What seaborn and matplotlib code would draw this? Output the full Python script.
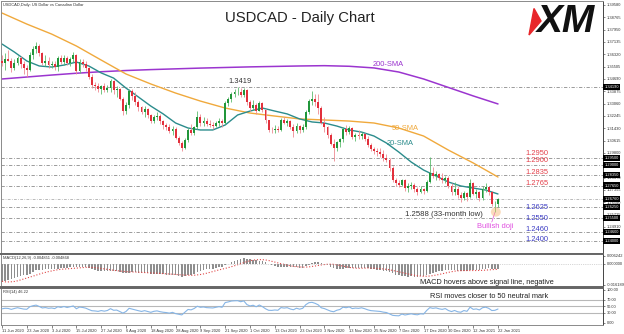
import numpy as np
import pandas as pd
import matplotlib
matplotlib.use("Agg")
import matplotlib.pyplot as plt
import seaborn as sns
from matplotlib.patches import Polygon, Ellipse

sns.set_theme(style="white")
plt.rcParams['font.family'] = ['Liberation Sans', 'DejaVu Sans']

# ---------------- data ----------------
opens = [1.3590,1.3575,1.3600,1.3590,1.3540,1.3575,1.3605,1.3570,1.3540,1.3530,
         1.3625,1.3665,1.3690,1.3640,1.3575,1.3590,1.3560,1.3570,1.3545,1.3605,
         1.3580,1.3610,1.3575,1.3600,1.3625,1.3525,1.3580,1.3565,1.3540,1.3485,
         1.3430,1.3420,1.3400,1.3420,1.3395,1.3410,1.3455,1.3395,1.3400,1.3340,
         1.3260,1.3300,1.3390,1.3355,1.3320,1.3285,1.3250,1.3270,1.3230,1.3190,
         1.3215,1.3225,1.3190,1.3165,1.3150,1.3125,1.3140,1.3080,1.3045,1.3010,
         1.3065,1.3130,1.3115,1.3150,1.3215,1.3180,1.3190,1.3170,1.3165,1.3160,
         1.3175,1.3190,1.3175,1.3310,1.3335,1.3370,1.3380,1.3385,1.3365,1.3395,
         1.3315,1.3280,1.3300,1.3260,1.3310,1.3265,1.3195,1.3135,1.3130,1.3140,
         1.3130,1.3195,1.3180,1.3190,1.3150,1.3125,1.3160,1.3130,1.3150,1.3250,
         1.3325,1.3340,1.3315,1.3275,1.3180,1.3150,1.3100,1.3040,1.3010,1.3050,
         1.3070,1.3140,1.3120,1.3145,1.3085,1.3100,1.3090,1.3105,1.3075,1.3035,
         1.3005,1.2995,1.2985,1.2975,1.2950,1.2935,1.2880,1.2800,1.2780,1.2770,
         1.2800,1.2750,1.2760,1.2770,1.2740,1.2725,1.2740,1.2730,1.2790,1.2850,
         1.2830,1.2840,1.2815,1.2800,1.2815,1.2760,1.2725,1.2745,1.2700,1.2685,
         1.2715,1.2690,1.2780,1.2710,1.2720,1.2685,1.2740,1.2755,1.2720,1.2640,
         1.2645]
highs = [1.3630,1.3640,1.3660,1.3605,1.3600,1.3620,1.3620,1.3585,1.3560,1.3645,
         1.3690,1.3715,1.3700,1.3650,1.3630,1.3615,1.3585,1.3590,1.3620,1.3625,
         1.3625,1.3620,1.3615,1.3650,1.3635,1.3600,1.3600,1.3585,1.3550,1.3500,
         1.3450,1.3445,1.3430,1.3440,1.3430,1.3470,1.3465,1.3420,1.3410,1.3350,
         1.3320,1.3400,1.3400,1.3380,1.3330,1.3290,1.3290,1.3280,1.3240,1.3230,
         1.3250,1.3240,1.3200,1.3180,1.3170,1.3160,1.3150,1.3095,1.3060,1.3080,
         1.3145,1.3170,1.3160,1.3260,1.3240,1.3215,1.3210,1.3195,1.3185,1.3190,
         1.3210,1.3205,1.3325,1.3350,1.3385,1.3405,1.3419,1.3410,1.3410,1.3400,
         1.3330,1.3330,1.3310,1.3325,1.3320,1.3270,1.3200,1.3150,1.3165,1.3160,
         1.3210,1.3215,1.3205,1.3195,1.3170,1.3175,1.3165,1.3170,1.3265,1.3340,
         1.3390,1.3370,1.3370,1.3290,1.3220,1.3160,1.3110,1.3070,1.3060,1.3080,
         1.3150,1.3165,1.3160,1.3150,1.3110,1.3130,1.3120,1.3110,1.3090,1.3045,
         1.3020,1.3010,1.3010,1.3000,1.2975,1.2950,1.2895,1.2815,1.2800,1.2810,
         1.2810,1.2780,1.2785,1.2780,1.2755,1.2760,1.2750,1.2800,1.2955,1.2885,
         1.2860,1.2850,1.2850,1.2830,1.2825,1.2780,1.2790,1.2760,1.2720,1.2730,
         1.2725,1.2810,1.2785,1.2745,1.2730,1.2760,1.2780,1.2765,1.2730,1.2660,
         1.2685]
lows = [1.3555,1.3530,1.3585,1.3515,1.3530,1.3560,1.3540,1.3505,1.3485,1.3520,
        1.3600,1.3640,1.3620,1.3560,1.3555,1.3540,1.3540,1.3530,1.3520,1.3565,
        1.3560,1.3560,1.3555,1.3580,1.3505,1.3510,1.3550,1.3520,1.3470,1.3410,
        1.3395,1.3385,1.3370,1.3380,1.3385,1.3380,1.3370,1.3350,1.3330,1.3230,
        1.3240,1.3280,1.3330,1.3300,1.3260,1.3240,1.3220,1.3210,1.3180,1.3175,
        1.3200,1.3170,1.3140,1.3130,1.3110,1.3100,1.3070,1.3030,1.2995,1.3005,
        1.3050,1.3100,1.3100,1.3140,1.3160,1.3155,1.3160,1.3150,1.3140,1.3150,
        1.3160,1.3150,1.3170,1.3290,1.3320,1.3350,1.3360,1.3350,1.3350,1.3300,
        1.3260,1.3265,1.3240,1.3255,1.3250,1.3180,1.3120,1.3110,1.3115,1.3120,
        1.3125,1.3170,1.3160,1.3140,1.3085,1.3110,1.3110,1.3120,1.3140,1.3240,
        1.3300,1.3290,1.3240,1.3170,1.3120,1.3080,1.3030,1.2930,1.2990,1.3020,
        1.3050,1.3100,1.3105,1.3070,1.3060,1.3070,1.3070,1.3060,1.3020,1.2990,
        1.2970,1.2960,1.2955,1.2930,1.2920,1.2860,1.2790,1.2760,1.2755,1.2760,
        1.2730,1.2720,1.2740,1.2725,1.2705,1.2715,1.2710,1.2720,1.2780,1.2815,
        1.2800,1.2800,1.2780,1.2780,1.2750,1.2705,1.2705,1.2680,1.2655,1.2670,
        1.2665,1.2685,1.2700,1.2680,1.2660,1.2670,1.2720,1.2700,1.2630,1.2588,
        1.2620]
closes = [1.3575,1.3600,1.3590,1.3540,1.3575,1.3605,1.3570,1.3540,1.3530,1.3625,
          1.3665,1.3690,1.3640,1.3575,1.3590,1.3560,1.3570,1.3545,1.3605,1.3580,
          1.3610,1.3575,1.3600,1.3625,1.3525,1.3580,1.3565,1.3540,1.3485,1.3430,
          1.3420,1.3400,1.3420,1.3395,1.3410,1.3455,1.3395,1.3400,1.3340,1.3260,
          1.3300,1.3390,1.3355,1.3320,1.3285,1.3250,1.3270,1.3230,1.3190,1.3215,
          1.3225,1.3190,1.3165,1.3150,1.3125,1.3140,1.3080,1.3045,1.3010,1.3065,
          1.3130,1.3115,1.3150,1.3215,1.3180,1.3190,1.3170,1.3165,1.3160,1.3175,
          1.3190,1.3175,1.3310,1.3335,1.3370,1.3380,1.3385,1.3365,1.3395,1.3315,
          1.3280,1.3300,1.3260,1.3310,1.3265,1.3195,1.3135,1.3130,1.3140,1.3130,
          1.3195,1.3180,1.3190,1.3150,1.3125,1.3160,1.3130,1.3150,1.3250,1.3325,
          1.3340,1.3315,1.3275,1.3180,1.3150,1.3100,1.3040,1.3010,1.3050,1.3070,
          1.3140,1.3120,1.3145,1.3085,1.3100,1.3090,1.3105,1.3075,1.3035,1.3005,
          1.2995,1.2985,1.2975,1.2950,1.2935,1.2880,1.2800,1.2780,1.2770,1.2800,
          1.2750,1.2760,1.2770,1.2740,1.2725,1.2740,1.2730,1.2790,1.2850,1.2830,
          1.2840,1.2815,1.2800,1.2815,1.2760,1.2725,1.2745,1.2700,1.2685,1.2715,
          1.2690,1.2780,1.2710,1.2720,1.2685,1.2740,1.2755,1.2720,1.2640,1.2645,
          1.2676]
# closes before the visible window (warm-up for MACD / RSI)
prior_closes = [1.4140,1.4200,1.4150,1.4120,1.4160,1.4050,1.3990,1.3930,1.3930,1.4050,
                1.4120,1.4040,1.4130,1.4010,1.3930,1.3980,1.4070,1.4100,1.4130,1.4090,
                1.3960,1.3950,1.3880,1.3960,1.3990,1.3990,1.3790,1.3760,1.3780,1.3770,
                1.3550,1.3510,1.3530,1.3580,1.3440,1.3420,1.3450,1.3530]

sma20_bars = list(range(0, 161, 4))
sma20 = [1.3700,1.3647,1.3588,1.3555,1.3548,1.3561,1.3581,1.3555,1.3509,1.3475,
         1.3409,1.3350,1.3290,1.3238,1.3178,1.3145,1.3132,1.3132,1.3165,1.3231,
         1.3257,1.3277,1.3257,1.3238,1.3205,1.3185,1.3178,1.3158,1.3132,1.3118,
         1.3092,1.3046,1.2986,1.2920,1.2867,1.2828,1.2788,1.2762,1.2748,1.2735,1.2709]
sma_bars = list(range(0, 161, 8))
sma50 = [1.3905,1.3832,1.3766,1.3687,1.3594,1.3502,1.3436,1.3376,1.3323,1.3277,
         1.3244,1.3224,1.3205,1.3198,1.3191,1.3178,1.3145,1.3092,1.2999,1.2914,1.2821]
sma200 = [1.3469,1.3482,1.3495,1.3507,1.3517,1.3525,1.3531,1.3536,1.3541,1.3545,
          1.3549,1.3552,1.3555,1.3557,1.3553,1.3542,1.3515,1.3469,1.3413,1.3357,1.3304]

date_labels = ["11 Jun 2020","23 Jun 2020","3 Jul 2020","15 Jul 2020","27 Jul 2020",
               "6 Aug 2020","18 Aug 2020","28 Aug 2020","9 Sep 2020","21 Sep 2020",
               "1 Oct 2020","13 Oct 2020","23 Oct 2020","3 Nov 2020","13 Nov 2020",
               "25 Nov 2020","7 Dec 2020","17 Dec 2020","30 Dec 2020","12 Jan 2021","22 Jan 2021"]
price_ticks = [1.39580,1.38765,1.37950,1.37135,1.36320,1.35505,1.34690,1.33875,1.33060,
               1.32245,1.31430,1.30615,1.29800,1.28170,1.27355,1.26540,1.25725,1.24910]
macd_ticks = [0.006242, 0.0, -0.016189]
rsi_ticks = [100, 70, 50, 30, 0]
rsi_levels = [70, 50, 30]

peak_level = 1.3419
resist_levels = [1.2950, 1.2900, 1.2835, 1.2765]
support_levels = [1.2625, 1.2550, 1.2460, 1.2400]
low_level = 1.2588

# ---------------- derived series ----------------
n = len(closes)
idx = np.arange(n)
o = np.array(opens); h = np.array(highs); l = np.array(lows); c = np.array(closes)

full = pd.Series(prior_closes + closes)
ema12 = full.ewm(span=12, adjust=False).mean()
ema26 = full.ewm(span=26, adjust=False).mean()
macd_full = ema12 - ema26
signal_full = macd_full.rolling(9).mean()
macd = macd_full.values[-n:]
signal = signal_full.values[-n:]
delta = full.diff()
gain = delta.clip(lower=0).ewm(alpha=1/14, adjust=False).mean()
loss = (-delta.clip(upper=0)).ewm(alpha=1/14, adjust=False).mean()
rsi = (100 - 100 / (1 + gain / loss)).values[-n:]

# ---------------- figure ----------------
W, H = 624, 334
fig = plt.figure(figsize=(6.24, 3.34), dpi=100)
fig.patch.set_facecolor("white")

def add_ax(x0, y0, x1, y1):
    return fig.add_axes([x0 / W, 1 - y1 / H, (x1 - x0) / W, (y1 - y0) / H])

ax = add_ax(1, 1, 603, 254)
ax_m = add_ax(1, 254, 603, 287)
ax_r = add_ax(1, 288, 603, 325)

XL = (-0.3226, 193.87)
def py(ypix):
    return 1.3958 - (ypix - 5) / 1513.0

GREEN = "#21963A"
RED = "#E2303C"
GRAY_LINE = "#8C8C8C"
TICK_FS = 2.9

# candles
up = c >= o
dn = ~up
ax.vlines(idx[up], l[up], h[up], color="#5DBB6E", lw=0.6, zorder=3)
ax.vlines(idx[dn], l[dn], h[dn], color="#EE8A92", lw=0.6, zorder=3)
ax.bar(idx[up], np.maximum(c[up] - o[up], 0.00025), bottom=o[up], width=0.64,
       color=GREEN, linewidth=0, zorder=4)
ax.bar(idx[dn], np.maximum(o[dn] - c[dn], 0.00025), bottom=c[dn], width=0.64,
       color=RED, linewidth=0, zorder=4)

# moving averages
sns.lineplot(x=sma_bars, y=sma200, ax=ax, color="#9B35CF", lw=1.1, zorder=2)
sns.lineplot(x=sma_bars, y=sma50, ax=ax, color="#F0A93C", lw=1.0, zorder=2)
sns.lineplot(x=sma20_bars, y=sma20, ax=ax, color="#2B8C8C", lw=1.0, zorder=2)

# horizontal levels
dd = (0, (4, 2, 1, 2))
for lv in [peak_level] + resist_levels + support_levels:
    ax.axhline(lv, color=GRAY_LINE, lw=0.6, ls=dd, zorder=1)
ax.axhline(closes[-1], color="#A0A0A0", lw=0.5, ls=dd, zorder=1)

# level annotations
txt_fs = 5.4
ax.text(76.8, peak_level + 0.0013, f"{peak_level:.4f}", fontsize=txt_fs, color="#333333",
        ha="center", va="bottom")
for lv, yc in zip(resist_levels, [154, 161, 172.7, 184]):
    ax.text(169.0, py(yc), f"{lv:.4f}", fontsize=txt_fs, color="#E4404A", ha="left", va="center")
for lv, yc in zip(support_levels, [207.3, 218.7, 230, 240]):
    ax.text(169.0, py(yc), f"{lv:.4f}", fontsize=txt_fs, color="#3C3CC4", ha="left", va="center")
ax.text(124.5, py(65), "200-SMA", fontsize=txt_fs, color="#9B35CF", ha="center", va="center")
ax.text(130.0, py(128), "50-SMA", fontsize=txt_fs, color="#F0A93C", ha="center", va="center")
ax.text(128.4, py(143.5), "20-SMA", fontsize=txt_fs, color="#2B8C8C", ha="center", va="center")
ax.text(130.0, py(214), f"{low_level:.4f} (33-month low)", fontsize=5.6, color="#333333",
        ha="left", va="center")
ax.text(153.2, py(227), "Bullish doji", fontsize=txt_fs, color="#E04FE0", ha="left", va="center")
ax.plot([158.0, 159.0], [py(222), py(212.5)], color="#E04FE0", lw=0.5, zorder=5)
ax.add_patch(Ellipse((159.3, low_level + 0.0002), 3.2, 0.0062, facecolor="#F6B26B",
                     alpha=0.45, edgecolor="none", zorder=5))
ax.text(0.004, 0.986, "USDCAD,Daily: US Dollar vs Canadian Dollar", transform=ax.transAxes,
        fontsize=TICK_FS, color="#333333", ha="left", va="center")

ax.set_xlim(*XL)
ax.set_ylim(py(254), py(1))
ax.set_xticks([])
ax.yaxis.tick_right()
ax.set_yticks(price_ticks)
ax.set_yticklabels([f"{v:.5f}" for v in price_ticks], fontsize=TICK_FS, color="#333333")
ax.tick_params(axis="y", length=1.5, pad=1, width=0.4, colors="#333333")

for lv in [peak_level] + resist_levels + [closes[-1]] + support_levels:
    ax.text(1.0025, lv, f"{lv:.5f}", transform=ax.get_yaxis_transform(), fontsize=TICK_FS,
            color="white", ha="left", va="center", clip_on=False,
            bbox=dict(boxstyle="square,pad=0.25", fc="black", ec="none"))

# MACD panel
ax_m.bar(idx, macd, width=0.5, color="#8E8E8E", linewidth=0)
sns.lineplot(x=idx, y=signal, ax=ax_m, color="#E04848", lw=0.8, linestyle=":")
ax_m.axhline(0, color="#B0B0B0", lw=0.5, ls=":")
ax_m.set_xlim(*XL)
ax_m.set_ylim(-0.01799, 0.00757)
ax_m.set_xticks([])
ax_m.yaxis.tick_right()
ax_m.set_yticks(macd_ticks)
ax_m.set_yticklabels([f"{v:.6f}" for v in macd_ticks], fontsize=TICK_FS, color="#333333")
ax_m.tick_params(axis="y", length=1.5, pad=1, width=0.4)
ax_m.text(0.004, 0.87, "MACD(12,26,9) -0.004851 -0.004868", transform=ax_m.transAxes,
          fontsize=TICK_FS, color="#333333", ha="left", va="center")
ax_m.text(0.696, 0.15, "MACD hovers above signal line, negative", transform=ax_m.transAxes,
          fontsize=5.3, color="#222222", ha="left", va="center")

# RSI panel
for lv in rsi_levels:
    ax_r.axhline(lv, color="#B8B8B8", lw=0.8, zorder=1)
sns.lineplot(x=idx, y=rsi, ax=ax_r, color="#86B5E6", lw=0.8, zorder=3)
ax_r.set_xlim(*XL)
ax_r.set_ylim(-7.0, 106.1)
ax_r.yaxis.tick_right()
ax_r.set_yticks(rsi_ticks)
ax_r.set_yticklabels([f"{v:.2f}" for v in rsi_ticks], fontsize=TICK_FS, color="#333333")
ax_r.tick_params(axis="y", length=1.5, pad=1, width=0.4)
ax_r.set_xticks(list(range(0, 161, 8)))
ax_r.set_xticklabels(date_labels, fontsize=TICK_FS, color="#333333")
for t in ax_r.get_xticklabels():
    t.set_ha("left")
ax_r.tick_params(axis="x", length=2, pad=1, width=0.4, direction="out", bottom=True)
ax_r.text(0.004, 0.905, "RSI(14) 46.22", transform=ax_r.transAxes,
          fontsize=TICK_FS, color="#333333", ha="left", va="center")
ax_r.text(0.7126, 0.765, "RSI moves closer to 50 neutral mark", transform=ax_r.transAxes,
          fontsize=5.3, color="#222222", ha="left", va="center")

for a in (ax, ax_m, ax_r):
    a.set_xlabel(""); a.set_ylabel("")
    a.set_facecolor("white")
    for s in a.spines.values():
        s.set_visible(True)
        s.set_color("#8A8A8A")
        s.set_linewidth(0.7)
    a.spines["right"].set_color("#444444")
    if a.get_legend():
        a.get_legend().remove()
ax.spines["bottom"].set_linewidth(1.4); ax.spines["bottom"].set_color("#666666")
ax_m.spines["top"].set_linewidth(1.4); ax_m.spines["top"].set_color("#666666")
ax_m.spines["bottom"].set_linewidth(1.4); ax_m.spines["bottom"].set_color("#666666")
ax_r.spines["top"].set_linewidth(1.4); ax_r.spines["top"].set_color("#666666")

# overlay: title and logo (pixel coordinates)
ov = fig.add_axes([0, 0, 1, 1], zorder=10)
ov.set_xlim(0, W); ov.set_ylim(H, 0); ov.axis("off"); ov.patch.set_alpha(0)
ov.text(300, 18, "USDCAD - Daily Chart", fontsize=10.7, color="#222222", ha="center", va="center")
ov.add_patch(Polygon([(534, 8.5), (541, 21), (529, 35)], closed=True, color="#E8262A"))
ov.text(566, 22, "XM", fontsize=28, fontweight="bold", fontstyle="italic", color="#111111",
        ha="center", va="center")

fig.savefig("out.png", dpi=100, facecolor="white")
